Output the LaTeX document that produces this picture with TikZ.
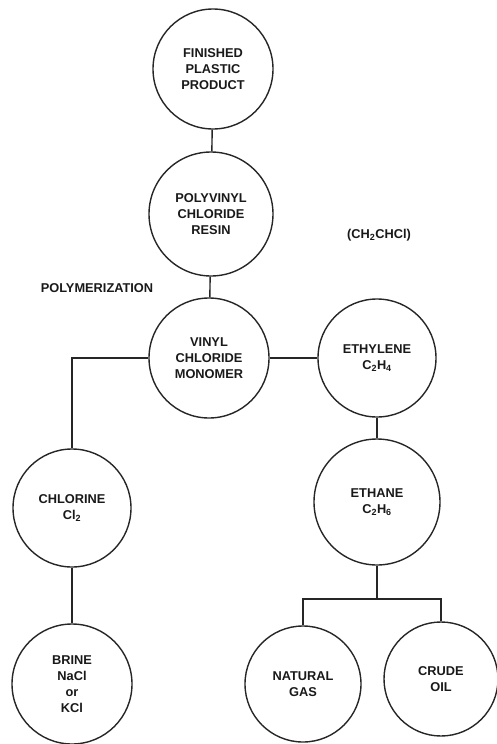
\documentclass[tikz,border=0pt]{standalone}
\usepackage{fontspec}
\setmainfont{Liberation Sans}
\begin{document}
\begin{tikzpicture}[x=1pt,y=1pt,
  every node/.style={font=\fontsize{12.8}{16}\selectfont\bfseries, text=black!90},
  proc/.style={circle, draw=black!85, line width=1.4pt, align=center, inner sep=0pt},
  conn/.style={draw=black!85, line width=1.4pt}]
\useasboundingbox (0,0) rectangle (497,-744);
\node[proc, minimum size=120] (fin) at (213,-69) {FINISHED\\PLASTIC\\PRODUCT};
\node[proc, minimum size=124] (pvc) at (211,-214) {POLYVINYL\\CHLORIDE\\RESIN};
\node[proc, minimum size=120] (vcm) at (209,-358) {VINYL\\CHLORIDE\\MONOMER};
\node[proc, minimum size=118] (ethy) at (377,-358) {ETHYLENE\\C\textsubscript{2}H\textsubscript{4}};
\node[proc, minimum size=126] (ethane) at (377,-502) {ETHANE\\C\textsubscript{2}H\textsubscript{6}};
\node[proc, minimum size=118] (chl) at (72,-508) {CHLORINE\\Cl\textsubscript{2}};
\node[proc, minimum size=120] (brine) at (72,-684) {BRINE\\NaCl\\or\\KCl};
\node[proc, minimum size=116] (ng) at (303,-684) {NATURAL\\GAS};
\node[proc, minimum size=114] (co) at (441,-679) {CRUDE\\OIL};
\node (formula) at (379,-235) {(CH\textsubscript{2}CHCl)};
\node (poly) at (97,-288) {POLYMERIZATION};
\coordinate (sp) at (377,-599);
\draw[conn] (fin) -- (pvc);
\draw[conn] (pvc) -- (vcm);
\draw[conn] (vcm) -- (ethy);
\draw[conn] (vcm.west) -| (chl.north);
\draw[conn] (chl) -- (brine);
\draw[conn] (ethy) -- (ethane);
\draw[conn] (ethane.south) -- (sp);
\draw[conn] (sp) -| (ng.north);
\draw[conn] (sp) -| (co.north);
\end{tikzpicture}
\end{document}
